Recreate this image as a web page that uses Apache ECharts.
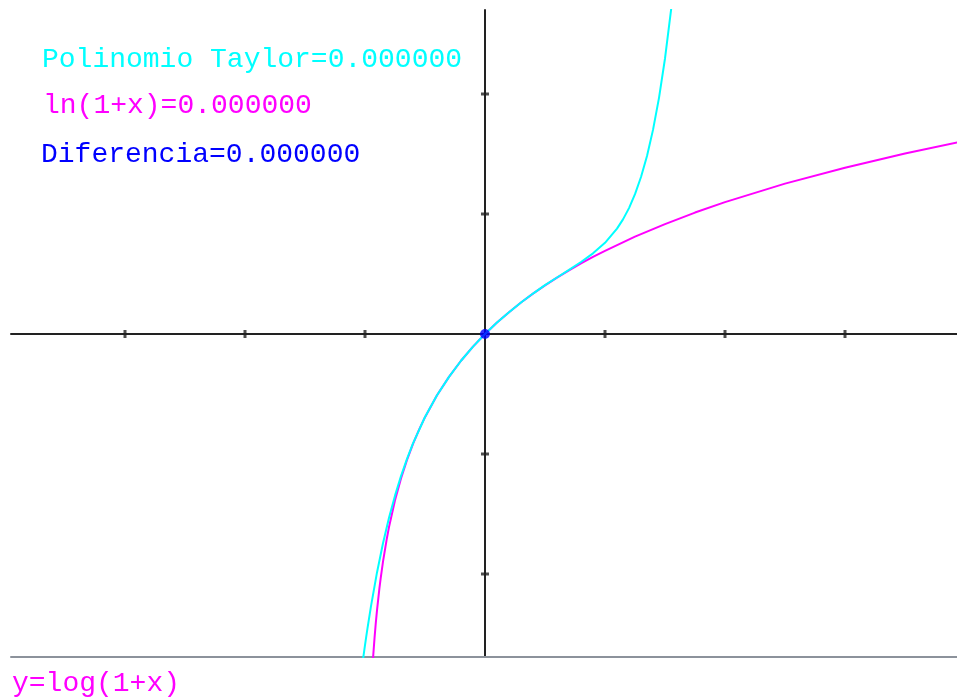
<!DOCTYPE html>
<html>
<head>
<meta charset="utf-8">
<script src="https://cdn.jsdelivr.net/npm/echarts@6/dist/echarts.min.js"></script>
<style>
  html, body { margin: 0; padding: 0; background: #fff; }
  #chart { width: 957px; height: 698px; }
</style>
</head>
<body>
<div id="chart"></div>
<script>
// puntos: polinomio de Taylor (cian)
const taylorX = [-1.02, -1.0, -0.99, -0.98, -0.95, -0.9, -0.85, -0.8, -0.75, -0.7, -0.65, -0.6, -0.5, -0.4, -0.3, -0.2, -0.1, 0,
  0.1, 0.2, 0.3, 0.4, 0.5, 0.6, 0.7, 0.8, 0.9, 1.0, 1.1, 1.15, 1.2, 1.25, 1.3, 1.35, 1.4, 1.45, 1.5, 1.55, 1.575, 1.6]
const taylorY = [-2.737, -2.593, -2.524, -2.457, -2.268, -1.987, -1.744, -1.532, -1.347, -1.184, -1.040, -0.912, -0.692, -0.511, -0.357, -0.223, -0.105, 0,
  0.095, 0.182, 0.262, 0.337, 0.407, 0.471, 0.535, 0.600, 0.672, 0.760, 0.878, 0.955, 1.049, 1.165, 1.308, 1.484, 1.701, 1.968, 2.296, 2.696, 2.927, 3.183]

// ln(1+x) (magenta)
const lnX = [-0.95, -0.935, -0.93, -0.92, -0.91, -0.9, -0.88, -0.87, -0.85, -0.82, -0.8, -0.75, -0.7, -0.65, -0.6, -0.55, -0.5, -0.4, -0.3, -0.2, -0.1, 0,
  0.1, 0.2, 0.3, 0.4, 0.5, 0.6, 0.7, 0.8, 0.9, 1.0, 1.25, 1.5, 1.75, 2.0, 2.5, 3.0, 3.5, 4.0]
const lnY = [-2.996, -2.733, -2.659, -2.526, -2.408, -2.303, -2.120, -2.040, -1.897, -1.715, -1.609, -1.386, -1.204, -1.050, -0.916, -0.799, -0.693, -0.511, -0.357, -0.223, -0.105, 0,
  0.095, 0.182, 0.262, 0.336, 0.405, 0.470, 0.531, 0.588, 0.642, 0.693, 0.811, 0.916, 1.012, 1.099, 1.253, 1.386, 1.504, 1.609]

const xTicks = [-3, -2, -1, 1, 2, 3]
const yTicks = [-2, -1, 1, 2]

const labels = ['Polinomio Taylor=0.000000', 'ln(1+x)=0.000000', 'Diferencia=0.000000', 'y=log(1+x)']

const zip = (xs, ys) => xs.map((x, i) => [x, ys[i]])

const chart = echarts.init(document.getElementById('chart'))
const mono = '"Liberation Mono", "DejaVu Sans Mono", monospace'
const axisColor = '#222'

const option = {
  animation: false,
  backgroundColor: '#fff',
  grid: { left: 11, right: 0, top: 10, bottom: 41 },
  xAxis: [
    {
      type: 'value', min: -3.95, max: 3.9333,
      axisLine: { show: true, onZero: true, lineStyle: { color: axisColor, width: 2 } },
      axisTick: { show: false }, axisLabel: { show: false }, splitLine: { show: false }
    },
    {
      type: 'value', min: -3.95, max: 3.9333, position: 'bottom',
      axisLine: { show: true, onZero: false, lineStyle: { color: '#8c929b', width: 2 } },
      axisTick: { show: false }, axisLabel: { show: false }, splitLine: { show: false }
    }
  ],
  yAxis: {
    type: 'value', min: -2.6917, max: 2.7,
    axisLine: { show: true, onZero: true, lineStyle: { color: axisColor, width: 2 } },
    axisTick: { show: false }, axisLabel: { show: false }, splitLine: { show: false }
  },
  graphic: [
    { type: 'text', left: 42, top: 46, style: { text: labels[0], fill: '#00ffff', font: '28px ' + mono } },
    { type: 'text', left: 43, top: 92, style: { text: labels[1], fill: '#ff00ff', font: '28px ' + mono } },
    { type: 'text', left: 41, top: 141, style: { text: labels[2], fill: '#0000ff', font: '28px ' + mono } },
    { type: 'text', left: 12, top: 670, style: { text: labels[3], fill: '#ff00ff', font: '28px ' + mono } }
  ],
  series: [
    {
      type: 'scatter', symbol: 'rect', symbolSize: [3, 8], silent: true,
      itemStyle: { color: axisColor }, data: xTicks.map(x => [x, 0]), z: 1
    },
    {
      type: 'scatter', symbol: 'rect', symbolSize: [8, 3], silent: true,
      itemStyle: { color: axisColor }, data: yTicks.map(y => [0, y]), z: 1
    },
    {
      name: 'ln(1+x)', type: 'line', showSymbol: false, smooth: false,
      lineStyle: { color: '#ff00ff', width: 2 }, data: zip(lnX, lnY), z: 3
    },
    {
      name: 'Polinomio Taylor', type: 'line', showSymbol: false, smooth: false,
      lineStyle: { color: '#00ffff', width: 2 }, data: zip(taylorX, taylorY), z: 4
    },
    {
      type: 'scatter', symbolSize: 10, silent: true,
      itemStyle: { color: '#0000ff' }, data: [[0, 0]], z: 5
    }
  ]
}

chart.setOption(option)
</script>
</body>
</html>
